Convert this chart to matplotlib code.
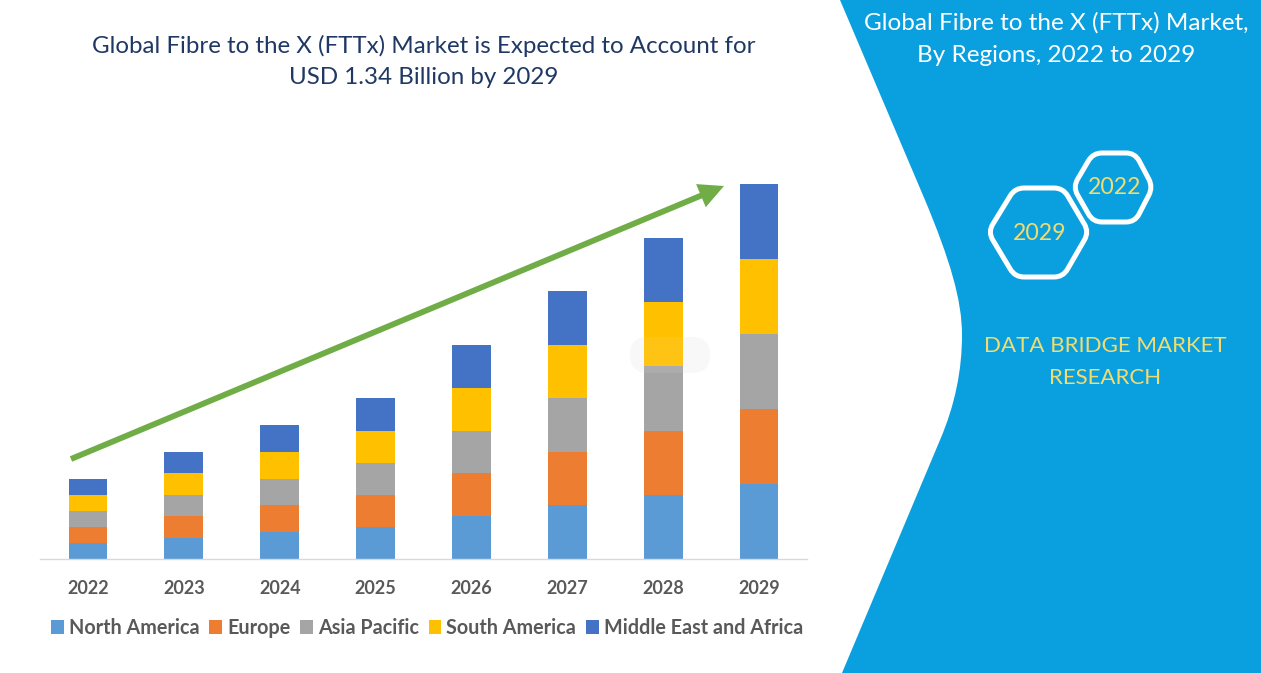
import numpy as np
import matplotlib
matplotlib.use('agg')
import matplotlib.pyplot as plt
from matplotlib.patches import FancyBboxPatch, PathPatch
from matplotlib.path import Path

plt.rcParams['font.family'] = ['Lato', 'DejaVu Sans']

years = ['2022', '2023', '2024', '2025', '2026', '2027', '2028', '2029']
north_america = [16, 21, 27, 32, 43, 54, 64, 75]
europe = [16, 22, 27, 32, 43, 53, 64, 75]
asia_pacific = [16, 21, 26, 32, 42, 54, 65, 75]
south_america = [16, 22, 27, 32, 43, 53, 64, 75]
middle_east_africa = [16, 21, 27, 33, 43, 54, 64, 75]

series = [
    ('North America', north_america, '#5B9BD5'),
    ('Europe', europe, '#ED7D31'),
    ('Asia Pacific', asia_pacific, '#A5A5A5'),
    ('South America', south_america, '#FFC000'),
    ('Middle East and Africa', middle_east_africa, '#4472C4'),
]

W, H = 1261, 673
BLUE = '#0AA0DF'
YELLOW = '#F2DC6F'


def round_hex(pts, r=9):
    verts, codes = [], []
    n = len(pts)
    for i in range(n):
        p = np.array(pts[i], float)
        a = np.array(pts[i - 1], float)
        b = np.array(pts[(i + 1) % n], float)
        start = p + (a - p) / np.linalg.norm(a - p) * r
        end = p + (b - p) / np.linalg.norm(b - p) * r
        verts += [start, p, end]
        codes += [Path.MOVETO if i == 0 else Path.LINETO, Path.CURVE3, Path.CURVE3]
    verts.append(verts[0])
    codes.append(Path.CLOSEPOLY)
    return Path(verts, codes)


fig = plt.figure(figsize=(W / 100, H / 100), dpi=100, facecolor='white')

# overlay in pixel coords for the panel and decoration
bg = fig.add_axes([0, 0, 1, 1], zorder=0)
bg.set_xlim(0, W)
bg.set_ylim(H, 0)
bg.axis('off')

panel = Path([(840, 0), (925, 200), (950, 260), (962, 300), (962, 335),
              (962, 370), (955, 405), (940, 440), (842, 673), (W, H), (W, 0), (840, 0)],
             [Path.MOVETO, Path.LINETO, Path.CURVE4, Path.CURVE4, Path.CURVE4,
              Path.CURVE4, Path.CURVE4, Path.CURVE4, Path.LINETO, Path.LINETO, Path.LINETO, Path.CLOSEPOLY])
bg.add_patch(PathPatch(panel, fc=BLUE, ec='none'))

big_hex = [(988, 232), (1015, 188), (1063, 188), (1089, 232), (1063, 277), (1015, 277)]
small_hex = [(1073, 187), (1093, 153), (1135, 153), (1153, 187), (1135, 222), (1093, 222)]
for pts in (big_hex, small_hex):
    bg.add_patch(PathPatch(round_hex(pts), fc='none', ec='white', lw=3.6))

bg.text(1040, 234, '2029', color=YELLOW, fontsize=16.6, ha='center', va='center')
bg.text(1115, 188, '2022', color=YELLOW, fontsize=16.6, ha='center', va='center')
bg.text(1105, 346, 'DATA BRIDGE MARKET', color=YELLOW, fontsize=16, ha='center', va='center')
bg.text(1105, 378, 'RESEARCH', color=YELLOW, fontsize=16, ha='center', va='center')
bg.text(1056, 23, 'Global Fibre to the X (FTTx) Market,', color='white', fontsize=17.45, ha='center', va='center')
bg.text(1056, 55, 'By Regions, 2022 to 2029', color='white', fontsize=17.45, ha='center', va='center')

bg.text(424, 46, 'Global Fibre to the X (FTTx) Market is Expected to Account for', color='#1F3864',
        fontsize=17.4, ha='center', va='center')
bg.text(424, 78, 'USD 1.34 Billion by 2029', color='#1F3864', fontsize=17.4, ha='center', va='center')

# faint watermark pill behind the bars
bg.add_patch(FancyBboxPatch((630, 337), 80, 36, boxstyle='round,pad=0,rounding_size=18',
                            fc='#F8F8F8', ec='none'))

# stacked bars
ax = fig.add_axes([40 / W, 1 - 559 / H, 767 / W, 459 / H], zorder=1)
ax.patch.set_alpha(0)
x = np.arange(len(years))
bottom = np.zeros(len(years))
for name, vals, col in series:
    ax.bar(x, vals, width=0.405, bottom=bottom, color=col, label=name)
    bottom += np.array(vals)
ax.set_xlim(-0.5, 7.5)
ax.set_ylim(0, 459)
ax.set_xticks(x)
ax.set_xticklabels(years, fontsize=13, fontweight='bold', color='#595959')
ax.tick_params(axis='x', length=0, pad=15)
ax.set_yticks([])
for s in ['top', 'left', 'right']:
    ax.spines[s].set_visible(False)
ax.spines['bottom'].set_color('#D9D9D9')
ax.spines['bottom'].set_linewidth(1.0)

ax.legend(loc='center', bbox_to_anchor=(427 / W, 1 - 628 / H), bbox_transform=fig.transFigure,
          ncol=5, frameon=False, handlelength=0.65, handleheight=0.65, handletextpad=0.25,
          columnspacing=0.5, borderaxespad=0, borderpad=0,
          prop={'size': 14.2, 'weight': 'bold'}, labelcolor='#595959')

# top overlay: arrow and the tint of the watermark over the bars
top = fig.add_axes([0, 0, 1, 1], zorder=2)
top.set_xlim(0, W)
top.set_ylim(H, 0)
top.axis('off')
top.annotate('', xy=(724, 186), xytext=(71, 459),
             arrowprops=dict(width=4.2, headwidth=18, headlength=18, color='#70AD47', shrink=0, lw=0))
top.add_patch(FancyBboxPatch((630, 337), 80, 36, boxstyle='round,pad=0,rounding_size=18',
                             fc='white', ec='none', alpha=0.08))

fig.savefig('out.png', dpi=100)
